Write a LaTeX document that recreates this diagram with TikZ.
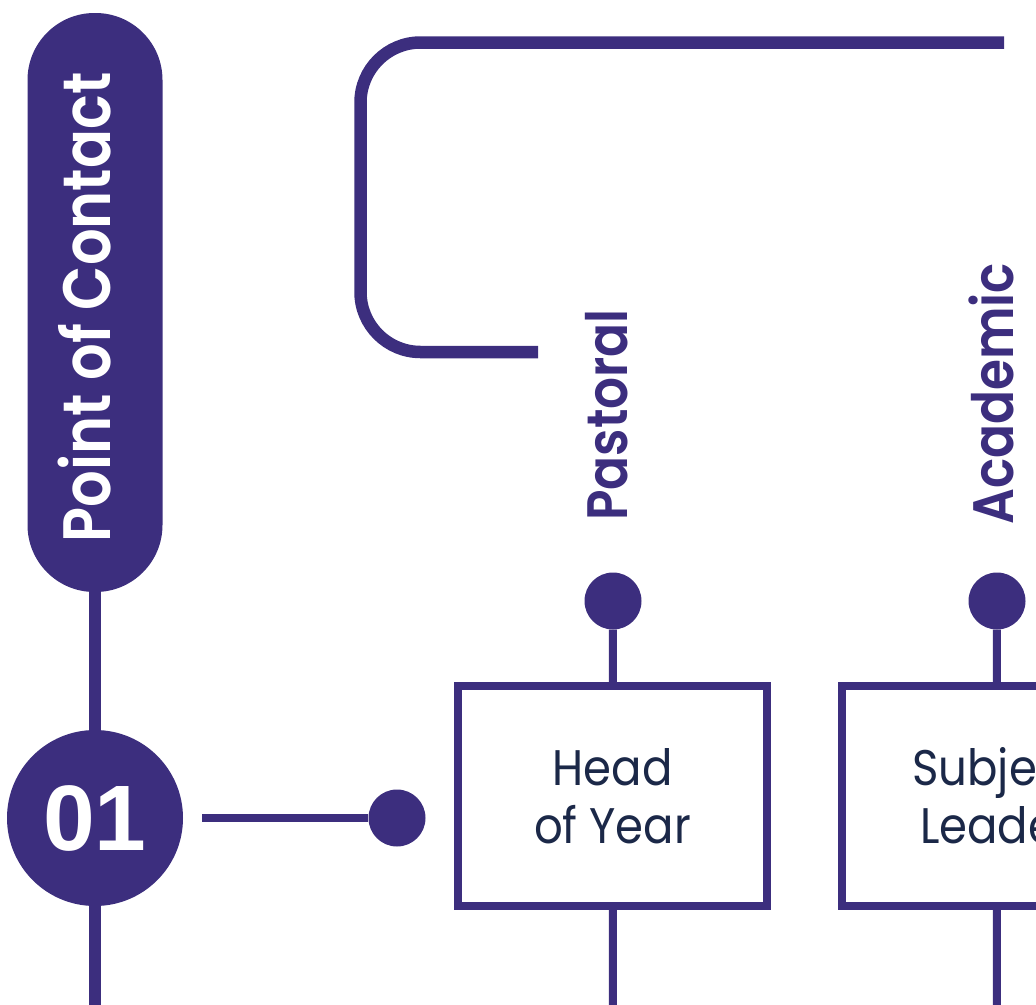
\documentclass[tikz,border=0pt]{standalone}
\usepackage{fontspec}
\setmainfont{Poppins}
\newfontfamily\titlefont[FakeStretch=0.86]{Poppins SemiBold}
\newfontfamily\tagfont[FakeStretch=0.88]{Poppins SemiBold}
\newfontfamily\rolefont[FakeStretch=0.9]{Poppins}
\newfontfamily\numfont{Liberation Sans}
\usetikzlibrary{positioning,calc}
\definecolor{MainPurple}{RGB}{60,46,126}
\definecolor{TextNavy}{RGB}{27,40,72}

\begin{document}
\begin{tikzpicture}[x=1pt,y=-1pt,
    spine/.style={draw=MainPurple, line width=12pt},
    link/.style={draw=MainPurple, line width=8pt},
    knob/.style={circle, fill=MainPurple, inner sep=0pt, minimum size=57pt},
    pill/.style={rectangle, rotate=90, fill=MainPurple, rounded corners=67pt,
      minimum width=579pt, minimum height=135pt, inner sep=0pt},
    pilltext/.style={rotate=90, anchor=base, text=white, inner sep=0pt,
      font=\titlefont\fontsize{67}{67}\selectfont},
    numdisc/.style={circle, fill=MainPurple, minimum size=176pt, inner sep=0pt,
      text=white, font=\numfont\bfseries\fontsize{93}{93}\selectfont},
    rolebox/.style={rectangle, draw=MainPurple, line width=8pt, fill=white,
      minimum width=309pt, minimum height=220pt, inner sep=0pt, align=center,
      text=TextNavy, font=\rolefont\fontsize{50}{58}\selectfont},
    tag/.style={rotate=90, anchor=base west, inner sep=0pt, text=MainPurple,
      font=\tagfont\fontsize{57}{57}\selectfont}]
  \useasboundingbox (0,0) rectangle (1036,1004);
  \clip (0,0) rectangle (1036,1004);

  % left spine
  \node[pill] (poc) at (95,302.5) {};
  \node[pilltext] (poclabel) at (110,307.5) {Point of Contact};
  \node[numdisc] (num) at (95,818) {01};
  \coordinate (spineEnd) at (95,1020);
  \draw[spine] (poc) -- (num);
  \draw[spine] (num) -- (spineEnd);

  % bracket over the columns
  \coordinate (brTop) at (1004,42.5);
  \coordinate (brBend) at (360.5,200);
  \coordinate (brLow) at (538,352);
  \draw[spine, line width=12.5pt, rounded corners=60pt] (brTop) -| (brBend) |- (brLow);

  % contacts
  \node[knob] (dotL) at (397,818) {};
  \draw[link, shorten <=19pt] (num) -- (dotL);

  \node[tag] (pas) at (627,521) {Pastoral};
  \node[knob] (dotP) at (613,601) {};
  \node[rolebox] (hoy) at (612.5,796) {Head\\of Year};
  \coordinate (hoyEnd) at (613,1020);
  \draw[link] (dotP) -- (hoy);
  \draw[link] (hoy) -- (hoyEnd);

  \node[tag] (aca) at (1013,525) {Academic};
  \node[knob] (dotA) at (997,601) {};
  \node[rolebox] (subj) at (996.5,796) {Subject\\Leader};
  \coordinate (subjEnd) at (997,1020);
  \draw[link] (dotA) -- (subj);
  \draw[link] (subj) -- (subjEnd);
\end{tikzpicture}
\end{document}
